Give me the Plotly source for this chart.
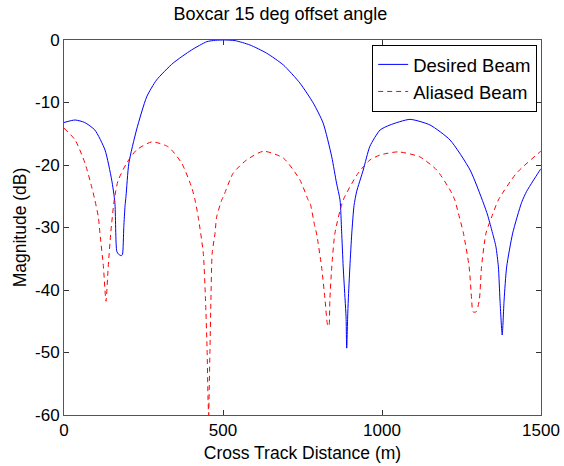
import plotly.graph_objects as go

# Desired beam (blue, solid)
desired_x = [0, 35, 65, 97, 129, 150, 160, 166, 172, 181, 184, 188, 192, 195, 204, 228, 260, 291,
             343, 401, 449, 476, 505, 538, 585, 637, 690, 742, 784, 815, 842, 857, 868, 873, 878,
             884, 887, 889, 892, 894, 899, 905, 912, 920, 941, 962, 994, 1025, 1088, 1151, 1214,
             1277, 1319, 1332, 1345, 1358, 1366, 1371, 1378, 1384, 1392, 1411, 1439, 1455, 1497, 1500]
desired_db = [-13.2, -12.8, -13.2, -14.4, -17.6, -22.4, -26.0, -33.8, -34.3, -34.5, -34.3, -30.0,
              -26.5, -25.0, -19.7, -14.4, -9.1, -6.4, -3.7, -1.6, -0.27, -0.05, 0.0, -0.1, -0.8,
              -2.1, -4.0, -6.9, -10.1, -13.3, -18.7, -22.9, -25.6, -30.6, -36.3, -41.6, -44.3,
              -49.3, -44.3, -41.6, -36.3, -30.9, -26.5, -24.3, -20.8, -17.0, -14.4, -13.6, -12.7,
              -13.6, -16.0, -20.8, -26.1, -28.0, -30.4, -33.0, -36.3, -41.6, -47.2, -41.6, -36.3,
              -30.9, -26.0, -24.2, -20.8, -20.6]

# Aliased beam (red, dashed)
aliased_x = [0, 35, 66, 87, 97, 108, 113, 124, 132, 139, 147, 158, 170, 197, 228, 276, 328, 370,
             401, 412, 422, 438, 445, 450, 453, 455, 456, 459, 462, 466, 475, 480, 496, 501, 532,
             574, 627, 690, 742, 768, 774, 789, 794, 810, 821, 829, 833, 836, 842, 852, 878, 925,
             962, 994, 1051, 1119, 1172, 1214, 1229, 1240, 1256, 1274, 1282, 1286, 1296, 1306,
             1313, 1327, 1345, 1366, 1423, 1497, 1500]
aliased_db = [-14.1, -16.0, -19.7, -23.5, -25.6, -28.3, -30.9, -36.3, -41.8, -36.3, -30.9, -25.6,
              -22.5, -19.7, -17.6, -16.3, -17.1, -19.7, -23.5, -25.6, -28.3, -34.1, -41.6, -49.6,
              -57.6, -60.0, -57.6, -49.6, -41.6, -34.1, -30.9, -28.3, -25.6, -25.1, -21.3, -19.2,
              -17.8, -18.9, -22.4, -25.6, -26.1, -29.9, -30.9, -36.3, -41.6, -45.6, -45.8, -41.6,
              -36.3, -30.9, -25.6, -21.3, -19.2, -18.4, -17.9, -18.7, -20.8, -24.0, -25.6, -27.7,
              -30.9, -36.3, -41.6, -43.5, -43.5, -41.6, -36.3, -30.9, -28.3, -25.6, -21.3, -17.9,
              -17.8]

x_ticks = [0, 500, 1000, 1500]
y_ticks = [0, -10, -20, -30, -40, -50, -60]

font = "Liberation Sans, Arial, sans-serif"

fig = go.Figure()
fig.add_trace(go.Scatter(x=desired_x, y=desired_db, mode="lines", name="Desired Beam",
                         line=dict(color="#0000ff", width=1, shape="spline", smoothing=0.6)))
fig.add_trace(go.Scatter(x=aliased_x, y=aliased_db, mode="lines", name="Aliased Beam",
                         line=dict(color="#ff0000", width=1, dash="5px,4px",
                                   shape="spline", smoothing=0.6)))

fig.update_layout(
    width=564, height=466,
    margin=dict(l=64, r=23, t=40, b=51, autoexpand=False),
    paper_bgcolor="white", plot_bgcolor="white",
    font=dict(family=font, size=16, color="black"),
    title=dict(text="Boxcar 15 deg offset angle", x=0.497, xanchor="center",
               y=1 - 14 / 466, yanchor="middle", font=dict(size=18)),
    showlegend=True,
    legend=dict(x=0.992, y=0.987, xanchor="right", yanchor="top",
                bgcolor="white", bordercolor="black", borderwidth=1,
                font=dict(size=18.5), tracegroupgap=0, itemwidth=30),
)
fig.update_xaxes(range=[0, 1500], tickvals=x_ticks, ticktext=[str(v) for v in x_ticks],
                 ticks="inside", ticklen=5, tickcolor="#333", showline=True, linecolor="#555",
                 linewidth=1, mirror="ticks", showgrid=False, zeroline=False, automargin=False,
                 tickfont=dict(size=17),
                 title=dict(text="Cross Track Distance (m)", standoff=7, font=dict(size=17.5)))
fig.update_yaxes(range=[-60, 0], tickvals=y_ticks, ticktext=[str(v) for v in y_ticks],
                 ticks="inside", ticklen=5, tickcolor="#333", showline=True, linecolor="#555",
                 linewidth=1, mirror="ticks", showgrid=False, zeroline=False, automargin=False,
                 tickfont=dict(size=17),
                 title=dict(text="Magnitude (dB)", standoff=3, font=dict(size=17.5)))

fig.write_html("out.html")
